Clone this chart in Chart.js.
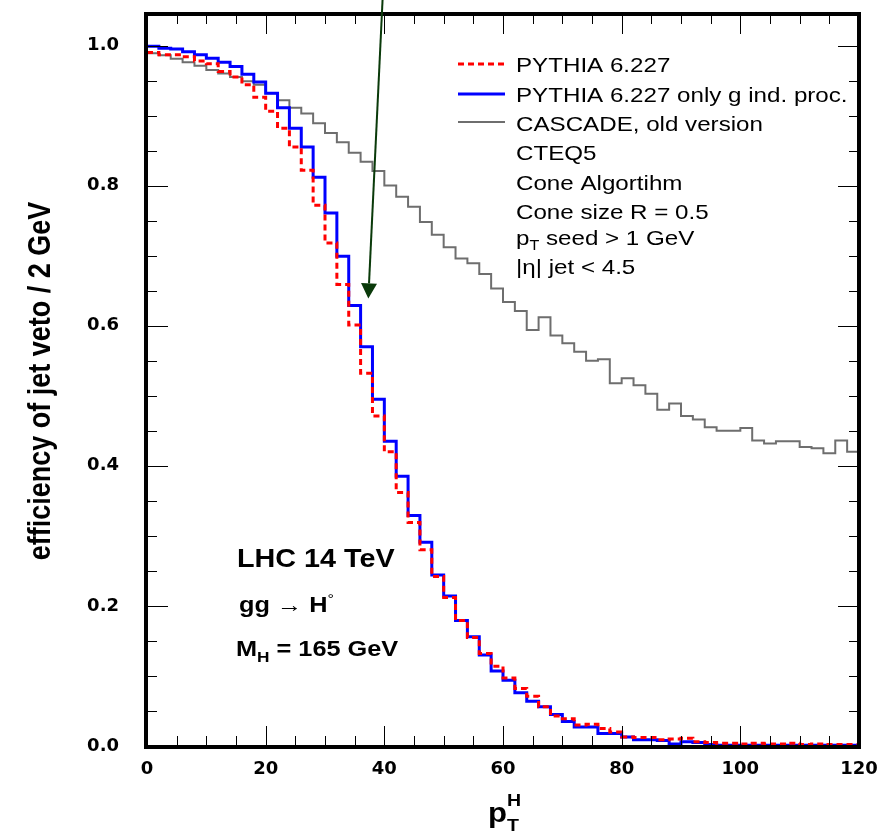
<!DOCTYPE html>
<html><head><meta charset="utf-8">
<script src="https://cdn.jsdelivr.net/npm/chart.js@4/dist/chart.umd.min.js"></script>
<style>html,body{margin:0;padding:0;background:#fff;} #wrap{width:886px;height:833px;position:relative;} canvas{display:block;}</style>
</head><body><div id="wrap"><canvas id="c" width="886" height="833"></canvas></div>
<script>
// ---- data (2 GeV bins, lower edges + final upper edge) ----
const binEdges = [0,2,4,6,8,10,12,14,16,18,20,22,24,26,28,30,32,34,36,38,40,42,44,46,48,50,52,54,56,58,
  60,62,64,66,68,70,72,74,76,78,80,82,84,86,88,90,92,94,96,98,100,102,104,106,108,110,112,114,116,118,120];

const pythia = [0.990,0.987,0.987,0.984,0.978,0.974,0.963,0.955,0.944,0.926,
  0.906,0.882,0.855,0.822,0.772,0.718,0.659,0.601,0.532,0.471,
  0.420,0.362,0.319,0.280,0.242,0.212,0.179,0.155,0.132,0.114,
  0.097,0.082,0.071,0.056,0.043,0.039,0.030,0.031,0.025,0.020,
  0.013,0.012,0.012,0.009,0.010,0.011,0.006,0.005,0.004,0.004,
  0.003,0.004,0.003,0.003,0.004,0.002,0.003,0.002,0.002,0.002];

const pythiaGluon = [0.999,0.996,0.995,0.991,0.987,0.982,0.976,0.970,0.959,0.948,
  0.932,0.911,0.882,0.855,0.812,0.761,0.699,0.629,0.570,0.495,
  0.435,0.385,0.329,0.291,0.244,0.214,0.179,0.156,0.130,0.107,
  0.094,0.076,0.064,0.056,0.045,0.035,0.027,0.027,0.018,0.018,
  0.013,0.009,0.009,0.008,0.003,0.006,0.005,0.002,0.001,0.001,
  0.001,0.001,0.001,0.001,0.001,0.001,0.001,0.001,0.001,0.001];

const cascade = [0.989,0.986,0.981,0.976,0.971,0.965,0.960,0.955,0.949,0.944,
  0.932,0.922,0.911,0.903,0.889,0.875,0.862,0.847,0.834,0.821,
  0.800,0.784,0.770,0.748,0.730,0.712,0.696,0.689,0.674,0.653,
  0.634,0.621,0.594,0.612,0.586,0.575,0.563,0.550,0.552,0.518,
  0.525,0.515,0.503,0.480,0.489,0.471,0.466,0.455,0.450,0.450,
  0.454,0.436,0.432,0.435,0.435,0.427,0.425,0.418,0.436,0.420];

const xMajorTicks = [0,20,40,60,80,100,120];
const xMinorTicks = [0,5,10,15,20,25,30,35,40,45,50,55,60,65,70,75,80,85,90,95,100,105,110,115,120];
const yMajorTicks = [0,0.2,0.4,0.6,0.8,1.0];
const yMinorTicks = [0,0.05,0.1,0.15,0.2,0.25,0.3,0.35,0.4,0.45,0.5,0.55,0.6,0.65,0.7,0.75,0.8,0.85,0.9,0.95,1.0];

const seriesLabels = ['PYTHIA 6.227', 'PYTHIA 6.227 only g ind. proc.', 'CASCADE, old version'];
const infoLines = ['CTEQ5', 'Cone Algortihm', 'Cone size R = 0.5'];
const arrowFrom = {x: 39.7, y: 1.065};
const arrowTo = {x: 37.3, y: 0.639};

function toSteps(vals){
  const pts = vals.map((v,i)=>({x: binEdges[i], y: v}));
  pts.push({x: binEdges[vals.length], y: vals[vals.length-1]});
  return pts;
}

const SANS = '"Liberation Sans", Arial, Helvetica, sans-serif';
const SX = 1.15;
const RED = '#ff0000', BLUE = '#0000ff', GRAY = '#6e6e6e';

function drawParts(ctx, x, y, parts){
  let cx = x;
  for (const p of parts){
    ctx.font = p.font;
    ctx.save(); ctx.translate(cx + (p.dx||0), y + (p.dy||0)); ctx.scale(SX,1); ctx.fillText(p.t, 0, 0); ctx.restore();
    cx += (p.dx||0) + (p.adv !== undefined ? p.adv : ctx.measureText(p.t).width * SX);
  }
}

const decorPlugin = {
  id: 'decor',
  afterDraw(chart){
    const ctx = chart.ctx, ca = chart.chartArea;
    const xs = chart.scales.x, ys = chart.scales.y;
    ctx.save();
    // ticks (inward, all four sides)
    ctx.strokeStyle = '#000'; ctx.lineWidth = 1;
    ctx.beginPath();
    for (const v of xMinorTicks){
      const px = Math.round(xs.getPixelForValue(v)) + 0.5;
      const len = xMajorTicks.includes(v) ? 20 : 10;
      ctx.moveTo(px, ca.bottom); ctx.lineTo(px, ca.bottom - len);
      ctx.moveTo(px, ca.top); ctx.lineTo(px, ca.top + len);
    }
    for (const v of yMinorTicks){
      const py = Math.round(ys.getPixelForValue(v)) + 0.5;
      const len = yMajorTicks.some(m => Math.abs(m - v) < 1e-9) ? 21 : 10;
      ctx.moveTo(ca.left, py); ctx.lineTo(ca.left + len, py);
      ctx.moveTo(ca.right, py); ctx.lineTo(ca.right - len, py);
    }
    ctx.stroke();
    // frame
    ctx.lineWidth = 4; ctx.strokeStyle = '#000';
    ctx.strokeRect(ca.left - 1, ca.top, ca.right - ca.left + 1, ca.bottom - ca.top + 1);

    // legend samples
    const lx0 = ca.left + 311, lx1 = ca.left + 358, tx = ca.left + 369;
    ctx.lineWidth = 3; ctx.strokeStyle = RED; ctx.setLineDash([6,4]);
    ctx.beginPath(); ctx.moveTo(lx0, 64); ctx.lineTo(lx1, 64); ctx.stroke();
    ctx.setLineDash([]);
    ctx.strokeStyle = BLUE; ctx.beginPath(); ctx.moveTo(lx0, 94); ctx.lineTo(lx1, 94); ctx.stroke();
    ctx.lineWidth = 2; ctx.strokeStyle = GRAY; ctx.beginPath(); ctx.moveTo(lx0, 122); ctx.lineTo(lx1, 122); ctx.stroke();

    ctx.fillStyle = '#000'; ctx.textBaseline = 'alphabetic'; ctx.textAlign = 'left';
    const F = 'normal 21px ' + SANS, Fs = 'normal 14px ' + SANS;
    drawParts(ctx, tx, 72, [{t: seriesLabels[0], font: F}]);
    drawParts(ctx, tx, 102, [{t: seriesLabels[1], font: F}]);
    drawParts(ctx, tx, 131, [{t: seriesLabels[2], font: F}]);
    drawParts(ctx, tx, 160, [{t: infoLines[0], font: F}]);
    drawParts(ctx, tx, 190, [{t: infoLines[1], font: F}]);
    drawParts(ctx, tx, 219, [{t: infoLines[2], font: F}]);
    drawParts(ctx, tx, 245, [{t: 'p', font: F}, {t: 'T', font: Fs, dy: 5}, {t: ' seed > 1 GeV', font: F}]);
    drawParts(ctx, tx, 274, [{t: '|η| jet < 4.5', font: F}]);

    // physics labels
    const B = (s) => 'bold ' + s + 'px ' + SANS;
    drawParts(ctx, 237, 567, [{t: 'LHC 14 TeV', font: B(25)}]);
    drawParts(ctx, 239, 612, [{t: 'gg ', font: B(22)}, {t: '→', font: 'normal 22px ' + SANS}, {t: ' H', font: B(22)}, {t: '°', font: 'normal 14px ' + SANS, dy: -8}]);
    drawParts(ctx, 236, 656, [{t: 'M', font: B(22)}, {t: 'H', font: B(15), dy: 6}, {t: ' = 165 GeV', font: B(22)}]);

    // axis titles
    drawParts(ctx, 488, 822, [{t: 'p', font: B(27)}, {t: 'T', font: B(17), dy: 9}]);
    drawParts(ctx, 507, 806, [{t: 'H', font: B(17)}]);
    ctx.save();
    ctx.translate(41, 381); ctx.rotate(-Math.PI/2); ctx.scale(1, SX);
    ctx.font = B(27); ctx.textAlign = 'center'; ctx.textBaseline = 'middle';
    ctx.fillText('efficiency of jet veto / 2 GeV', 0, 0);
    ctx.restore();

    // arrow
    const ax0 = xs.getPixelForValue(arrowFrom.x), ay0 = ys.getPixelForValue(arrowFrom.y);
    const ax1 = xs.getPixelForValue(arrowTo.x), ay1 = ys.getPixelForValue(arrowTo.y);
    const ang = Math.atan2(ay1 - ay0, ax1 - ax0);
    const hl = 15, hw = 8;
    const bx = ax1 - hl*Math.cos(ang), by = ay1 - hl*Math.sin(ang);
    ctx.strokeStyle = '#0a3a0a'; ctx.fillStyle = '#0a3a0a'; ctx.lineWidth = 2;
    ctx.beginPath(); ctx.moveTo(ax0, ay0); ctx.lineTo(bx, by); ctx.stroke();
    ctx.beginPath();
    ctx.moveTo(ax1, ay1);
    ctx.lineTo(bx + hw*Math.sin(ang), by - hw*Math.cos(ang));
    ctx.lineTo(bx - hw*Math.sin(ang), by + hw*Math.cos(ang));
    ctx.closePath(); ctx.fill();
    ctx.restore();
  }
};

const tickFont = {family: '"DejaVu Sans", sans-serif', weight: 'bold', size: 18};
const hiddenGrid = (len) => ({display: true, drawOnChartArea: false, drawTicks: true, tickLength: len, color: 'rgba(0,0,0,0)'});

new Chart(document.getElementById('c'), {
  type: 'line',
  data: {
    datasets: [
      {label: seriesLabels[0], data: toSteps(pythia), borderColor: RED, borderWidth: 3, borderDash: [6,4], stepped: true, pointRadius: 0, fill: false, order: 1},
      {label: seriesLabels[1], data: toSteps(pythiaGluon), borderColor: BLUE, borderWidth: 3, stepped: true, pointRadius: 0, fill: false, order: 2},
      {label: seriesLabels[2], data: toSteps(cascade), borderColor: GRAY, borderWidth: 2, stepped: true, pointRadius: 0, fill: false, order: 3}
    ]
  },
  options: {
    responsive: false, animation: false, devicePixelRatio: 1,
    layout: {padding: {left: 0, top: 14, right: 27, bottom: 0}},
    plugins: {legend: {display: false}, tooltip: {enabled: false}},
    scales: {
      x: {
        type: 'linear', min: 0, max: 120,
        ticks: {stepSize: 20, padding: 0, color: '#000', font: tickFont, maxRotation: 0, callback: v => String(v)},
        grid: hiddenGrid(13), border: {display: false},
        afterBuildTicks: s => { s.ticks = xMajorTicks.map(v => ({value: v})); },
        afterFit: s => { s.height = 87; }
      },
      y: {
        type: 'linear', min: 0, max: 1.045,
        ticks: {padding: 0, color: '#000', font: tickFont, callback: v => Number(v).toFixed(1)},
        grid: hiddenGrid(28), border: {display: false},
        afterBuildTicks: s => { s.ticks = yMajorTicks.map(v => ({value: v})); },
        afterFit: s => { s.width = 147; }
      }
    }
  },
  plugins: [decorPlugin]
});
</script></body></html>
